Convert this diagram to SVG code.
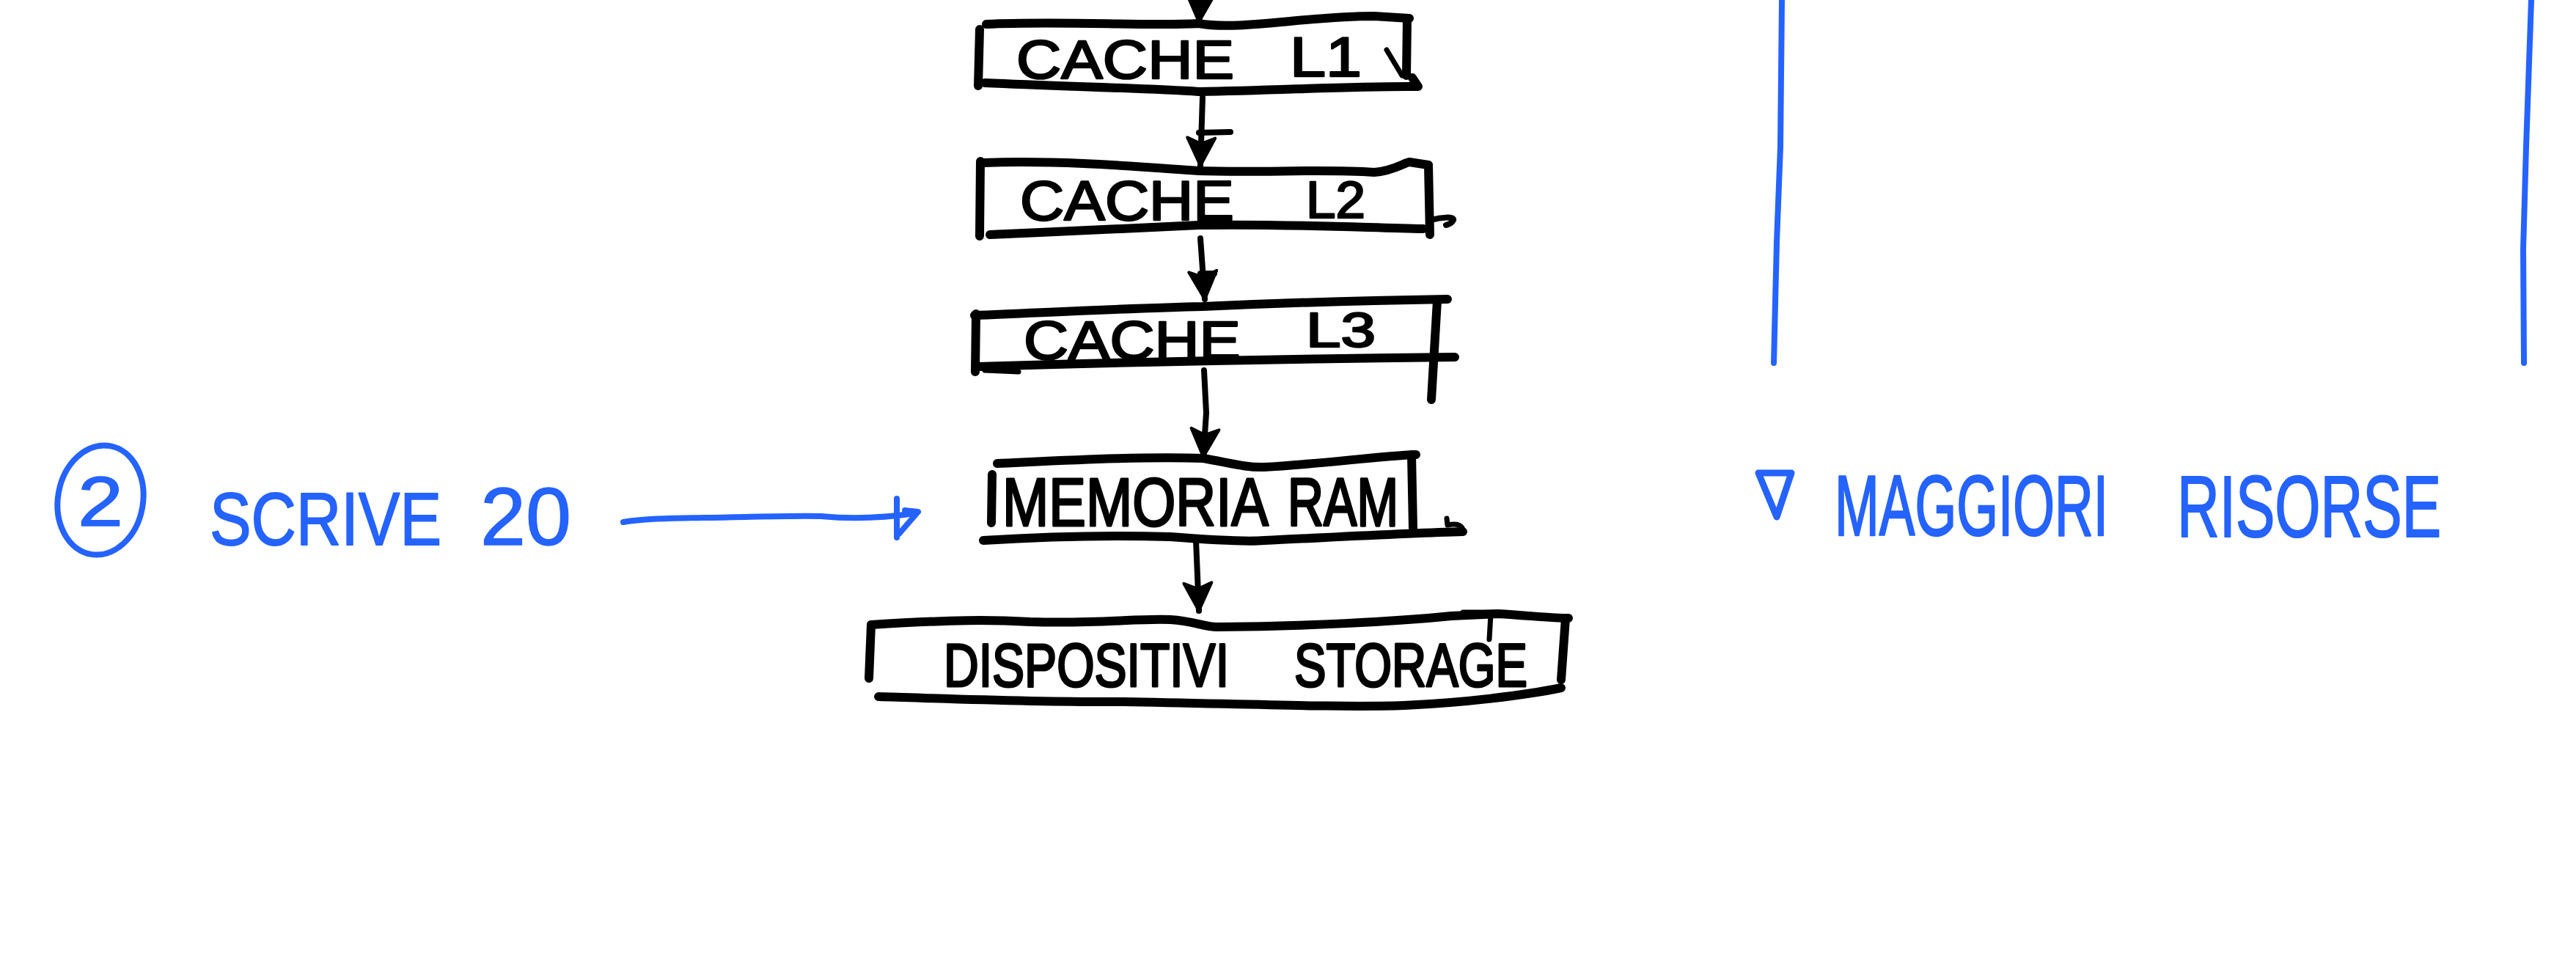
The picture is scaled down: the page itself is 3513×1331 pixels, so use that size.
<svg xmlns="http://www.w3.org/2000/svg" width="3513" height="1331" viewBox="0 0 3513 1331">
<style>
.edge{fill:none;stroke:#000;stroke-width:12;stroke-linecap:round;stroke-linejoin:round}
.con{fill:none;stroke:#000;stroke-width:8;stroke-linecap:round}
.blue{fill:none;stroke:#2563FF;stroke-width:8;stroke-linecap:round;stroke-linejoin:round}
.lbl{font-family:"Liberation Sans",Arial,sans-serif;fill:#000;stroke:#000;stroke-width:2.5;stroke-linejoin:round}
.blbl{font-family:"Liberation Sans",Arial,sans-serif;fill:#2563FF;stroke:#2563FF;stroke-width:1.5;stroke-linejoin:round}
</style>
<defs>
<marker id="ah" markerWidth="48" markerHeight="46" refX="42" refY="23" orient="auto" markerUnits="userSpaceOnUse">
<path d="M4,4 L42,23 L4,42 L12,23 Z" fill="#000" stroke="#000" stroke-width="4" stroke-linejoin="round"/>
</marker>
</defs>
<rect width="3513" height="1331" fill="#fff"/>

<g id="connectors">
<path class="con" d="M1637,-5 L1635,30" marker-end="url(#ah)"/>
<path class="con" d="M1640,133 L1637,226" marker-end="url(#ah)"/>
<path class="con" d="M1635,181 L1678,180"/>
<path class="con" d="M1637,325 L1643,408" marker-end="url(#ah)"/>
<path class="con" d="M1637,373 L1656,373"/>
<path class="con" d="M1642,505 L1645,563 L1641,623" marker-end="url(#ah)"/>
<path class="con" d="M1631,737 L1635,833" marker-end="url(#ah)"/>
<path class="blue" d="M850,712 C880,707 912,707 960,706 C1030,705 1078,703 1120,704 C1161,708 1200,707 1248,700"/>
<path class="blue" d="M1223,680 L1223,733 M1226,728 L1252,698 L1234,696"/>
</g>

<g id="node-l1">
<path class="edge" d="M1345,33 C1450,28 1560,36 1635,32 C1690,42 1780,22 1874,22 L1922,25"/>
<path class="edge" d="M1336,40 L1334,117"/>
<path class="edge" d="M1919,25 L1918,103"/>
<path class="edge" d="M1343,113 C1450,118 1560,120 1635,125 C1750,123 1850,117 1934,118 L1926,106"/>
<path class="edge" d="M1891,68 L1912,103" style="stroke-width:7"/>
<text class="lbl" x="1386" y="107" font-size="74" textLength="297" lengthAdjust="spacingAndGlyphs">CACHE</text>
<text class="lbl" x="1759" y="104" font-size="76" textLength="98" lengthAdjust="spacingAndGlyphs">L1</text>
</g>

<g id="node-l2">
<path class="edge" d="M1341,222 C1450,218 1560,228 1635,233 C1720,236 1800,230 1874,235 C1900,233 1915,222 1922,221 L1948,225"/>
<path class="edge" d="M1337,220 L1336,322"/>
<path class="edge" d="M1948,225 L1950,320"/>
<path class="edge" d="M1350,320 C1450,316 1560,310 1635,307 C1750,305 1850,310 1941,312"/>
<path class="edge" d="M1952,300 C1965,296 1984,295 1982,300 C1980,305 1975,306 1972,307" style="stroke-width:8"/>
<text class="lbl" x="1391" y="300" font-size="76" textLength="292" lengthAdjust="spacingAndGlyphs">CACHE</text>
<text class="lbl" x="1781" y="297" font-size="70" textLength="81" lengthAdjust="spacingAndGlyphs">L2</text>
</g>

<g id="node-l3">
<path class="edge" d="M1329,430 C1450,425 1550,420 1640,418 C1750,413 1850,410 1974,408"/>
<path class="edge" d="M1331,428 L1330,507"/>
<path class="edge" d="M1960,410 L1952,545"/>
<path class="edge" d="M1333,500 C1500,495 1700,490 1984,487"/>
<path class="edge" d="M1343,505 L1389,507" style="stroke-width:7"/>
<text class="lbl" x="1396" y="490" font-size="74" textLength="296" lengthAdjust="spacingAndGlyphs">CACHE</text>
<text class="lbl" x="1781" y="473" font-size="66" textLength="95" lengthAdjust="spacingAndGlyphs">L3</text>
</g>

<g id="node-ram">
<path class="edge" d="M1360,632 C1450,628 1560,622 1641,625 C1680,632 1700,638 1724,637 C1800,633 1880,622 1931,620"/>
<path class="edge" d="M1353,647 L1352,713"/>
<path class="edge" d="M1925,620 L1927,720"/>
<path class="edge" d="M1341,737 C1450,730 1530,730 1596,732 C1660,737 1700,739 1724,737 C1830,732 1920,727 1995,725"/>
<path class="edge" d="M1973,707 L1974,716 Q1995,712 1995,725" style="stroke-width:7"/>
<text class="lbl" x="1367" y="717" font-size="76" textLength="363" lengthAdjust="spacingAndGlyphs" transform="matrix(1 0 0 1.23 0 -164.9)">MEMORIA</text>
<text class="lbl" x="1756" y="717" font-size="68" textLength="151" lengthAdjust="spacingAndGlyphs" transform="matrix(1 0 0 1.37 0 -265.3)">RAM</text>
</g>

<g id="node-storage">
<path class="edge" d="M1188,852 C1300,845 1350,845 1405,848 C1500,851 1550,843 1596,845 C1630,847 1640,855 1660,855 C1780,854 1900,848 1979,840 L2043,837 C2090,840 2120,843 2139,843"/>
<path class="edge" d="M1995,835 L2040,835 M2033,838 L2031,872" style="stroke-width:7"/>
<path class="edge" d="M1188,852 L1185,925"/>
<path class="edge" d="M2135,843 L2129,927"/>
<path class="edge" d="M1198,950 C1300,953 1420,958 1533,957 C1700,960 1830,965 1915,962 C2000,958 2080,948 2129,938"/>
<text class="lbl" x="1287" y="936" font-size="66" textLength="389" lengthAdjust="spacingAndGlyphs" transform="matrix(1 0 0 1.27 0 -252.7)">DISPOSITIVI</text>
<text class="lbl" x="1765" y="936" font-size="65" textLength="318" lengthAdjust="spacingAndGlyphs" transform="matrix(1 0 0 1.29 0 -271.4)">STORAGE</text>
</g>

<g id="note-scrive">
<ellipse class="blue" cx="137" cy="682" rx="58" ry="75" transform="rotate(10 137 682)"/>
<text class="blbl" x="106" y="717" font-size="96" textLength="62" lengthAdjust="spacingAndGlyphs">2</text>
<text class="blbl" x="286" y="743" font-size="85" textLength="316" lengthAdjust="spacingAndGlyphs" transform="matrix(1 0 0 1.2 0 -148.6)">SCRIVE</text>
<text class="blbl" x="655" y="743" font-size="112" textLength="124" lengthAdjust="spacingAndGlyphs">20</text>
</g>

<g id="note-risorse">
<path class="blue" d="M2430,0 L2428,200 L2423,330 L2419,495"/>
<path class="blue" d="M3452,0 L3445,200 L3441,340 L3442,495"/>
<path d="M2398,645 L2443,645 L2423,705 Z" fill="none" stroke="#2563FF" stroke-width="9" stroke-linejoin="round"/>
<text class="blbl" x="2502" y="730" font-size="73" textLength="373" lengthAdjust="spacingAndGlyphs" transform="matrix(1 0 0 1.6 0 -438)">MAGGIORI</text>
<text class="blbl" x="2969" y="732" font-size="80" textLength="360" lengthAdjust="spacingAndGlyphs" transform="matrix(1 0 0 1.48 0 -351.4)">RISORSE</text>
</g>
</svg>
